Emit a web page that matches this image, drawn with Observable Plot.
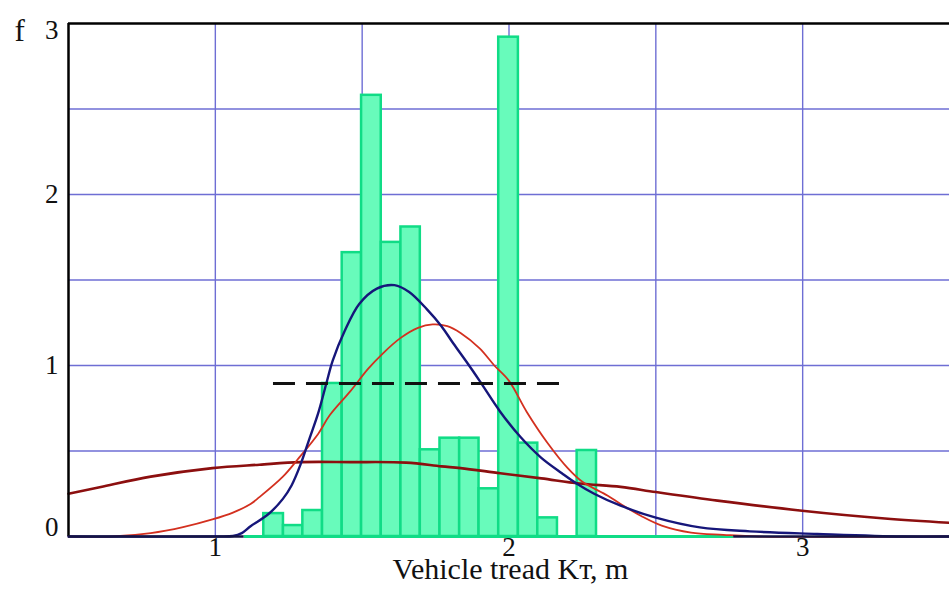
<!DOCTYPE html>
<html>
<head>
<meta charset="utf-8">
<script src="https://cdn.jsdelivr.net/npm/d3@7"></script>
<script src="https://cdn.jsdelivr.net/npm/@observablehq/plot@0.6"></script>
<style>
  html, body { margin: 0; padding: 0; background: #fff; }
  #chart { width: 949px; height: 593px; }
</style>
</head>
<body>
<div id="chart"></div>
<script>
// ---- data ----
const binLeft  = [1.165, 1.232, 1.298, 1.365, 1.432, 1.498, 1.565, 1.632, 1.698, 1.765, 1.832, 1.898, 1.965, 2.032, 2.098, 2.165, 2.232];
const binRight = [1.232, 1.298, 1.365, 1.432, 1.498, 1.565, 1.632, 1.698, 1.765, 1.832, 1.898, 1.965, 2.032, 2.098, 2.165, 2.232, 2.298];
const binValue = [0.134, 0.064, 0.152, 0.895, 1.66, 2.58, 1.72, 1.81, 0.507, 0.575, 0.575, 0.279, 2.92, 0.546, 0.109, 0, 0.503];
const histBaseRange = [1.098, 2.765];

const blueX = [0.5, 1.0, 1.06, 1.09, 1.12, 1.18, 1.23, 1.26, 1.29, 1.32, 1.35, 1.378, 1.40, 1.44, 1.49, 1.55, 1.61, 1.66, 1.72, 1.77, 1.81, 1.86, 1.90, 1.97, 2.04, 2.11, 2.18, 2.23, 2.29, 2.38, 2.50, 2.65, 2.82, 3.05, 3.34, 3.5];
const blueY = [0, 0, 0.003, 0.02, 0.06, 0.13, 0.22, 0.30, 0.42, 0.57, 0.72, 0.895, 1.03, 1.20, 1.36, 1.45, 1.47, 1.43, 1.33, 1.23, 1.13, 1.01, 0.91, 0.73, 0.58, 0.46, 0.37, 0.31, 0.25, 0.18, 0.11, 0.053, 0.03, 0.015, 0, 0];

const redX = [0.5, 0.65, 0.78, 0.89, 0.99, 1.06, 1.12, 1.15, 1.23, 1.28, 1.35, 1.39, 1.46, 1.52, 1.57, 1.63, 1.69, 1.74, 1.79, 1.835, 1.90, 1.95, 2.0, 2.06, 2.13, 2.20, 2.25, 2.335, 2.38, 2.45, 2.52, 2.62, 2.73, 2.85, 3.5];
const redY = [0, 0, 0.02, 0.055, 0.10, 0.14, 0.19, 0.23, 0.35, 0.45, 0.60, 0.71, 0.85, 0.98, 1.07, 1.16, 1.22, 1.24, 1.23, 1.19, 1.10, 1.00, 0.91, 0.73, 0.55, 0.40, 0.32, 0.24, 0.19, 0.12, 0.064, 0.023, 0.01, 0, 0];

const maroonX = [0.5, 0.61, 0.78, 0.99, 1.15, 1.29, 1.46, 1.65, 1.77, 1.835, 1.97, 2.11, 2.24, 2.38, 2.50, 2.71, 2.99, 3.28, 3.5];
const maroonY = [0.25, 0.29, 0.35, 0.40, 0.42, 0.435, 0.435, 0.432, 0.41, 0.40, 0.37, 0.34, 0.31, 0.29, 0.26, 0.21, 0.152, 0.105, 0.08];

const dashLevel = 0.895;
const dashRange = [1.198, 2.185];

const xTicks = [1, 2, 3];
const yTicks = [0, 1, 2, 3];
const xGrid = [1, 1.5, 2, 2.5, 3];
const yGrid = [0.5, 1, 1.5, 2, 2.5];
const xLabel = "Vehicle tread Kт, m";
const yLabel = "f";

// ---- build tables ----
const bins = binLeft.map((l, i) => ({x1: l, x2: binRight[i], y: binValue[i]})).filter(d => d.y > 0);
const blue = blueX.map((x, i) => ({x, y: blueY[i]}));
const red = redX.map((x, i) => ({x, y: redY[i]}));
const maroon = maroonX.map((x, i) => ({x, y: maroonY[i]}));

const serif = "'Liberation Serif', 'Times New Roman', serif";

const chart = Plot.plot({
  width: 949,
  height: 593,
  marginLeft: 68,
  marginTop: 23,
  marginRight: 0,
  marginBottom: 57,
  x: {domain: [0.5, 3.5], axis: null},
  y: {domain: [0, 3], axis: null},
  style: {fontFamily: serif, background: "#fff", overflow: "visible"},
  marks: [
    Plot.ruleX(xGrid, {stroke: "#6e6ed4", strokeWidth: 1.4}),
    Plot.ruleY(yGrid, {stroke: "#6e6ed4", strokeWidth: 1.4}),
    Plot.rect(bins, {x1: "x1", x2: "x2", y1: 0, y2: "y", fill: "#68fbbb", stroke: "#10dc86", strokeWidth: 2.5}),
    Plot.ruleY([0], {x1: histBaseRange[0], x2: histBaseRange[1], stroke: "#10dc86", strokeWidth: 3}),
    Plot.line(maroon, {x: "x", y: "y", stroke: "#8c0f0f", strokeWidth: 2.6, curve: "catmull-rom"}),
    Plot.line(red, {x: "x", y: "y", stroke: "#d3301f", strokeWidth: 1.8, curve: "catmull-rom"}),
    Plot.line(blue, {x: "x", y: "y", stroke: "#16167a", strokeWidth: 2.4, curve: "catmull-rom"}),
    Plot.ruleY([dashLevel], {x1: dashRange[0], x2: dashRange[1], stroke: "#111", strokeWidth: 3, strokeDasharray: "22,11"}),
    // frame lines
    Plot.ruleX([0.5], {stroke: "#000", strokeWidth: 2.5}),
    Plot.ruleY([3], {stroke: "#000", strokeWidth: 2.5}),
    Plot.ruleY([0], {x1: 0.5, x2: histBaseRange[0], stroke: "#141444", strokeWidth: 2.5}),
    Plot.ruleY([0], {x1: histBaseRange[1], x2: 3.5, stroke: "#141444", strokeWidth: 2.5}),
    // tick labels
    Plot.text(xTicks, {x: d => d, frameAnchor: "bottom", dy: 19, text: d => String(d), fontSize: 27, fill: "#111"}),
    Plot.text(yTicks.filter(d => d === 1 || d === 2), {y: d => d, frameAnchor: "left", dx: -10, textAnchor: "end", text: d => String(d), fontSize: 27, fill: "#111"}),
    Plot.text(yTicks.filter(d => d === 3), {y: d => d, frameAnchor: "left", dx: -10, dy: 7, textAnchor: "end", text: d => String(d), fontSize: 27, fill: "#111"}),
    Plot.text(yTicks.filter(d => d === 0), {y: d => d, frameAnchor: "left", dx: -10, dy: -9, textAnchor: "end", text: d => String(d), fontSize: 27, fill: "#111"}),
    Plot.text([xLabel], {x: 2.005, frameAnchor: "bottom", dy: 42, text: d => d, fontSize: 30, fill: "#111"}),
    Plot.text([yLabel], {frameAnchor: "top-left", dx: -54, dy: -5, text: d => d, fontSize: 31, fill: "#111"})
  ]
});
document.getElementById("chart").appendChild(chart);
</script>
</body>
</html>
